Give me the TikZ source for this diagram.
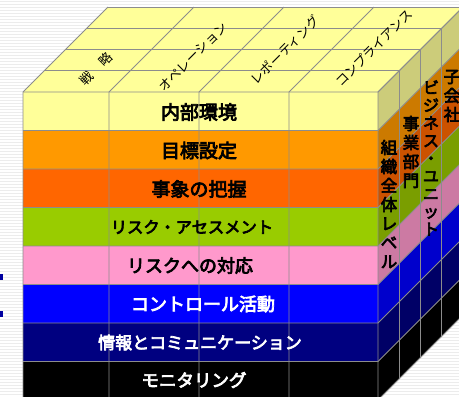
\documentclass[tikz,border=0pt]{standalone}
\usepackage{fontspec}
\newfontfamily\jp{Noto Sans CJK JP}
\newfontfamily\jpb{Noto Sans CJK JP}[FakeBold=4]
\definecolor{ra}{HTML}{FFFF99}\definecolor{ras}{HTML}{CCCC7A}
\definecolor{rb}{HTML}{FF9900}\definecolor{rbs}{HTML}{CC7A00}
\definecolor{rc}{HTML}{FF6600}\definecolor{rcs}{HTML}{CC5200}
\definecolor{rd}{HTML}{99CC00}\definecolor{rds}{HTML}{7A9E00}
\definecolor{re}{HTML}{FF99CC}\definecolor{res}{HTML}{CC7AA3}
\definecolor{rf}{HTML}{0000FF}\definecolor{rfs}{HTML}{0000CC}
\definecolor{rg}{HTML}{000080}\definecolor{rgs}{HTML}{000066}
\definecolor{rh}{HTML}{000000}\definecolor{rhs}{HTML}{000000}
\definecolor{gridgray}{HTML}{8C8C8C}
\definecolor{stripecol}{HTML}{ECECEC}
\definecolor{edgemarkcol}{HTML}{0000A0}
\begin{document}
\begin{tikzpicture}[x=1pt,y=-1pt,
  grid/.style={draw=gridgray,line width=0.8pt},
  rowlabel/.style={inner sep=0pt},
  toplabel/.style={font=\jp\fontsize{13}{15}\selectfont,rotate=45,inner sep=0pt},
  sidelabel/.style={font=\jpb\fontsize{16.5}{19}\selectfont,align=center,inner sep=0pt}]
\useasboundingbox (0,0) rectangle (459,397);
% background stripes
\fill[white] (0,0) rectangle (459,397);
\foreach \k in {0,...,132} {
  \draw[stripecol,line width=1.3pt] (0,{3*\k+1.5}) -- (459,{3*\k+1.5});
}
\fill[edgemarkcol] (0,274) rectangle (2.8,280);
\fill[edgemarkcol] (0,311) rectangle (2.8,317);
% top face
\fill[ra] (23,92) -- (378,92) -- (463,7) -- (108,7) -- cycle;
% rows, front and side
\foreach \c/\s [count=\i from 0] in {ra/ras,rb/rbs,rc/rcs,rd/rds,re/res,rf/rfs,rg/rgs,rh/rhs} {
  \pgfmathsetmacro\ya{92+38.5*\i}
  \pgfmathsetmacro\yb{92+38.5*(\i+1)}
  \fill[\c] (23,\ya) rectangle (378,\yb);
  \fill[\s] (378,\ya) -- (463,{\ya-85}) -- (463,{\yb-85}) -- (378,\yb) -- cycle;
}
% grid: front and side horizontals
\foreach \i in {0,...,8} {
  \pgfmathsetmacro\ya{92+38.5*\i}
  \draw[grid] (23,\ya) -- (378,\ya) -- (463,{\ya-85});
}
% front verticals and top column lines
\foreach \x in {23,109,199,289,378} {
  \draw[grid] (\x,400) -- (\x,92) -- ({\x+85},7);
}
% top depth lines and side verticals
\foreach \k in {1,...,4} {
  \draw[grid] ({23+21.25*\k},{92-21.25*\k}) -- ({378+21.25*\k},{92-21.25*\k}) -- ({378+21.25*\k},{400-21.25*\k});
}
% front labels
\node[rowlabel,font=\jpb\fontsize{19}{22}\selectfont] (l1) at (199,112) {内部環境};
\node[rowlabel,font=\jpb\fontsize{19}{22}\selectfont] (l2) at (199,150.5) {目標設定};
\node[rowlabel,font=\jpb\fontsize{19}{22}\selectfont] (l3) at (199,189) {事象の把握};
\node[rowlabel,font=\jpb\fontsize{16.3}{19}\selectfont] (l4) at (192,227) {リスク・アセスメント};
\node[rowlabel,font=\jpb\fontsize{18}{21}\selectfont] (l5) at (190,265.5) {リスクへの対応};
\node[rowlabel,font=\jpb\fontsize{18}{21}\selectfont,text=white] (l6) at (203,304) {コントロール活動};
\node[rowlabel,font=\jpb\fontsize{17}{20}\selectfont,text=white] (l7) at (200,342.5) {情報とコミュニケーション};
\node[rowlabel,font=\jpb\fontsize{17.5}{20}\selectfont,text=white] (l8) at (194,380) {モニタリング};
% top labels
\node[toplabel] (t1) at (96,69) {戦　略};
\node[toplabel] (t2) at (193,57) {オペレーション};
\node[toplabel] (t3) at (285,50) {レポーティング};
\node[toplabel] (t4) at (374,48) {コンプライアンス};
% side labels
\node[sidelabel] (s1) at (389,204) {組\\織\\全\\体\\レ\\ベ\\ル};
\node[sidelabel] (s2) at (411,152) {事\\業\\部\\門};
\node[sidelabel,font=\jpb\fontsize{16}{17.7}\selectfont] (s3) at (431,158) {ビ\\ジ\\ネ\\ス\\・\\ユ\\ニ\\ッ\\ト};
\node[sidelabel] (s4) at (452,96) {子\\会\\社};
\end{tikzpicture}
\end{document}
